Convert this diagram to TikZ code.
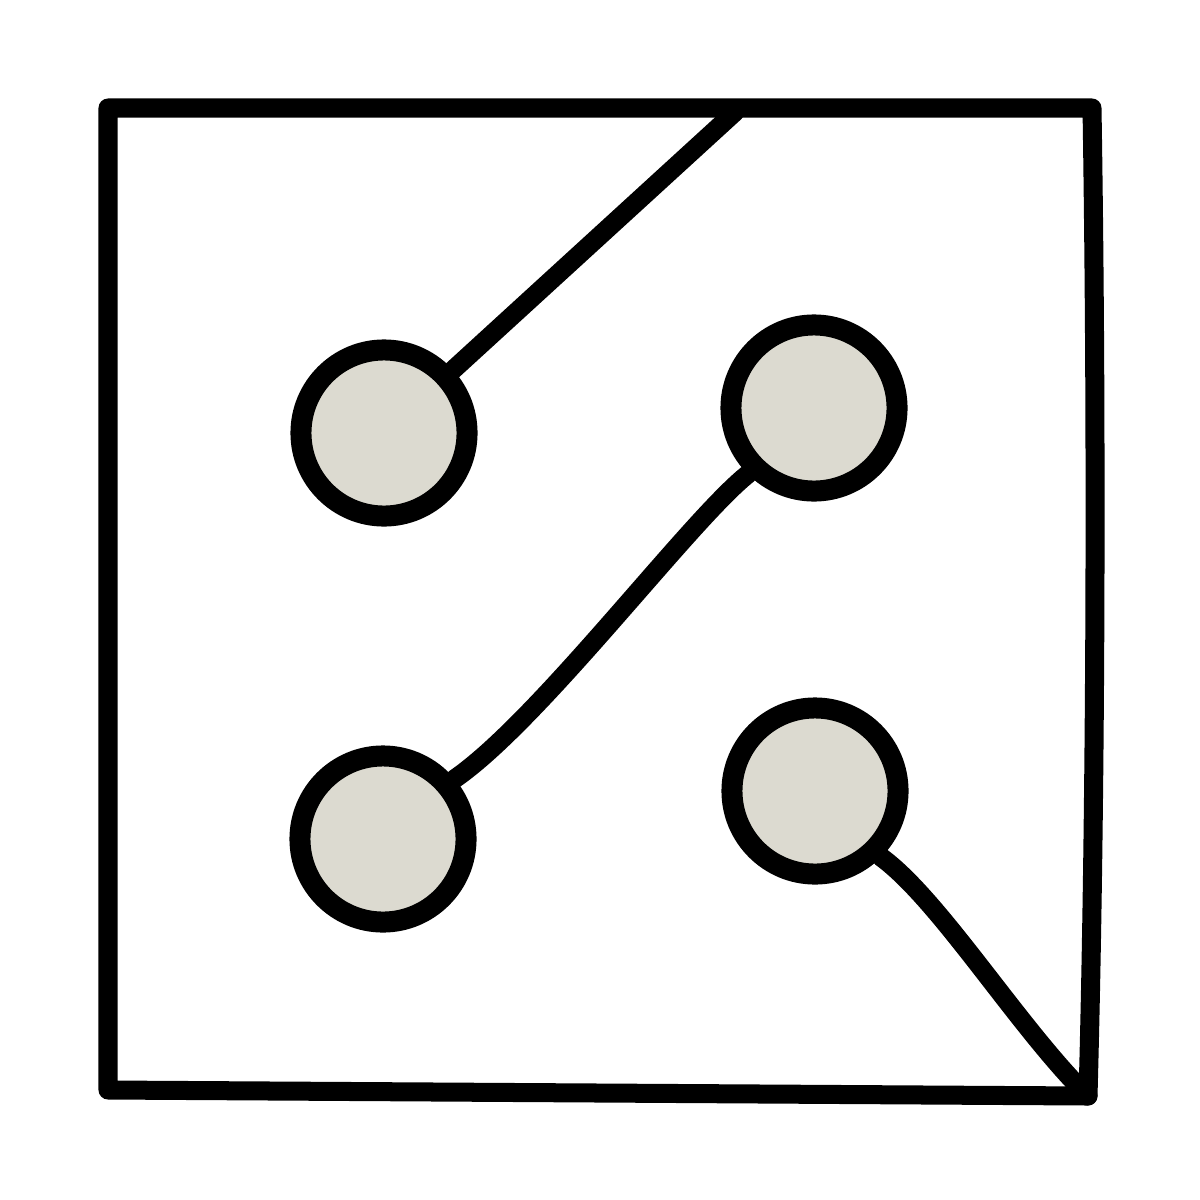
\documentclass[tikz,border=0pt]{standalone}
\begin{document}
\begin{tikzpicture}[x=0.01cm,y=-0.01cm,
  line width=0.19cm, line cap=round, line join=round,
  dot/.style={circle, draw=black, fill=dotfill, minimum size=1.66cm, inner sep=0pt, line width=0.21cm}]
\definecolor{dotfill}{HTML}{DCDAD0}
\useasboundingbox (0,0) rectangle (1200,1200);
\fill[white] (0,0) rectangle (1200,1200);
\coordinate (tl) at (108,108);
\coordinate (tr) at (1092,108);
\coordinate (br) at (1088,1096);
\coordinate (bl) at (108,1090);
\coordinate (topend) at (735,112);
\node[dot] (d1) at (384,433) {};
\node[dot] (d2) at (814,408) {};
\node[dot] (d3) at (383,839) {};
\node[dot] (d4) at (815,791) {};
\draw (tl) -- (tr) .. controls (1097,420) and (1096,800) .. (br) -- (bl) -- cycle;
\draw (d1) -- (topend);
\draw (d2.225) .. controls (690,520) and (540,720) .. (d3.40);
\draw (d4.-45) .. controls (940,900) and (1020,1030) .. (br);
\end{tikzpicture}
\end{document}
